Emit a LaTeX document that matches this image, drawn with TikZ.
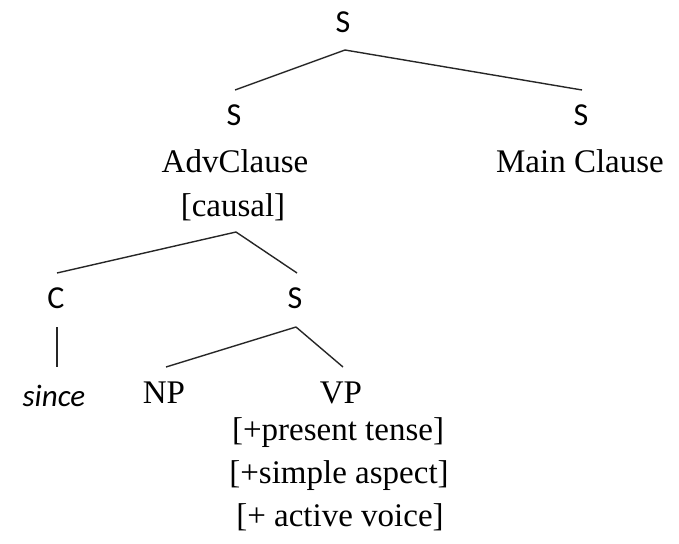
\documentclass[tikz,border=0pt]{standalone}
\usepackage{fontspec}
\setmainfont{Liberation Serif}
\newfontfamily\catfont{Carlito}
\begin{document}
\begin{tikzpicture}[x=1pt,y=-1pt,
  word/.style={inner sep=0pt,anchor=base,font=\fontsize{33}{38}\selectfont},
  cat/.style={word,font=\fontsize{32}{38}\selectfont\catfont},
  lex/.style={word,font=\fontsize{31}{38}\selectfont\catfont\itshape},
  branch/.style={draw=black!85,line width=1.4pt}]
\useasboundingbox (0,0) rectangle (679,543);

% labels, placed on their baselines
\node[cat]  (s0)     at (343,33)  {S};
\node[cat]  (s1)     at (234,125) {S};
\node[word] (adv)    at (235,172) {AdvClause};
\node[word] (causal) at (233,216) {[causal]};
\node[cat]  (s2)     at (581,125) {S};
\node[word] (main)   at (580,172) {Main Clause};
\node[cat]  (c)      at (56,308)  {C};
\node[cat]  (s3)     at (295,308) {S};
\node[lex]  (since)  at (54,406)  {since};
\node[word] (np)     at (164,403) {NP};
\node[word] (vp)     at (341,403) {VP};
\node[word] (f1)     at (338,440) {[+present tense]};
\node[word] (f2)     at (339,483) {[+simple aspect]};
\node[word] (f3)     at (340,526) {[+ active voice]};

% branches
\draw[branch] ([shift={(2,17)}]s0.base) -- ([shift={(1,-35)}]s1.base);
\draw[branch] ([shift={(2,17)}]s0.base) -- ([shift={(1,-35)}]s2.base);
\draw[branch] ([shift={(3,16)}]causal.base) -- ([shift={(1,-35)}]c.base);
\draw[branch] ([shift={(3,16)}]causal.base) -- ([shift={(2,-35)}]s3.base);
\draw[branch] ([shift={(1,19)}]c.base) -- ([shift={(3,-39)}]since.base);
\draw[branch] ([shift={(1,19)}]s3.base) -- ([shift={(2,-36)}]np.base);
\draw[branch] ([shift={(1,19)}]s3.base) -- ([shift={(2,-36)}]vp.base);
\end{tikzpicture}
\end{document}
